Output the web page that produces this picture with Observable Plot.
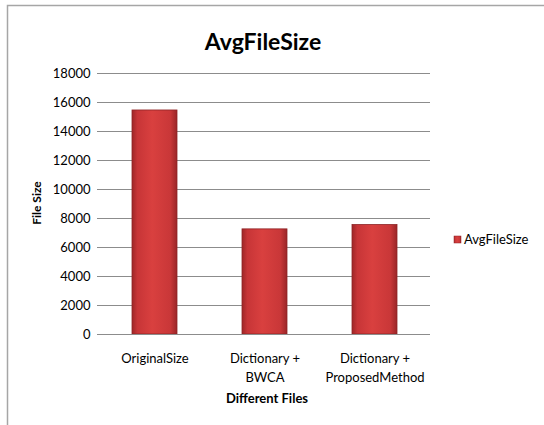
<!DOCTYPE html>
<html>
<head>
<meta charset="utf-8">
<script src="https://cdn.jsdelivr.net/npm/d3@7"></script>
<script src="https://cdn.jsdelivr.net/npm/@observablehq/plot@0.6"></script>
<style>
  html, body { margin: 0; padding: 0; background: #fff; }
  #chart svg { display: block; font-family: Lato, "Open Sans", sans-serif; }
</style>
</head>
<body>
<div id="chart"></div>
<script>
const categories = ["OriginalSize", "Dictionary + BWCA", "Dictionary + ProposedMethod"];
const categoryLabels = ["OriginalSize", "Dictionary +\nBWCA", "Dictionary +\nProposedMethod"];
const values = [15450, 7250, 7550];
const yTicks = [0, 2000, 4000, 6000, 8000, 10000, 12000, 14000, 16000, 18000];
const seriesName = "AvgFileSize";
const titleText = "AvgFileSize";
const xLabel = "Different Files";
const yLabel = "File Size";

const data = categories.map((c, i) => ({category: c, value: values[i]}));
const labelOf = new Map(categories.map((c, i) => [c, categoryLabels[i]]));

const W = 544, H = 425;
const chart = Plot.plot({
  width: W,
  height: H,
  marginLeft: 100,
  marginRight: 114,
  marginTop: 73,
  marginBottom: 91,
  style: {fontFamily: "Lato, 'Open Sans', sans-serif", fontSize: "13px", color: "#000", background: "#fff"},
  x: {domain: categories, paddingInner: 0.59, paddingOuter: 0.295, label: null},
  y: {domain: [0, 18000], label: null},
  marks: [
    Plot.gridY(yTicks, {stroke: "#8c8c8c", strokeOpacity: 1, strokeWidth: 1}),
    Plot.axisY(yTicks, {tickSize: 3, tickPadding: 7, stroke: "#8c8c8c", fontSize: 13, fill: "#000", label: null, tickFormat: d => String(d)}),
    Plot.barY(data, {x: "category", y: "value", fill: "url(#barGrad)", stroke: "#8e2325", strokeWidth: 0.8}),
    Plot.ruleX([0], {frameAnchor: "left", stroke: "#8c8c8c"}),
    Plot.ruleY([0], {stroke: "#8c8c8c"}),
    Plot.axisX({tickSize: 0, tickPadding: 15, fontSize: 13, fill: "#000", lineHeight: 1.45, label: null, tickFormat: d => labelOf.get(d)})
  ]
});

const svg = d3.select(chart);
const defs = svg.insert("defs", ":first-child");
const g = defs.append("linearGradient").attr("id", "barGrad").attr("x1", "0").attr("x2", "1").attr("y1", "0").attr("y2", "0");
[["0%", "#9e2628"], ["12%", "#c73537"], ["45%", "#d9403f"], ["85%", "#c93738"], ["100%", "#9a2527"]].forEach(([o, c]) =>
  g.append("stop").attr("offset", o).attr("stop-color", c));

// outer border
svg.append("path").attr("d", `M7.5,${H} L7.5,5.5 L${W},5.5`).attr("fill", "none").attr("stroke", "#a6a6a6").attr("stroke-width", 1.5);

// title
svg.append("text").attr("x", 263).attr("y", 50).attr("text-anchor", "middle")
  .attr("font-size", 23).attr("font-weight", "bold").attr("fill", "#000").text(titleText);

// y label
svg.append("text").attr("transform", "translate(41,203) rotate(-90)").attr("text-anchor", "middle")
  .attr("font-size", 12).attr("font-weight", "bold").attr("fill", "#000").text(yLabel);

// x label
svg.append("text").attr("x", 267).attr("y", 403).attr("text-anchor", "middle")
  .attr("font-size", 13).attr("font-weight", "bold").attr("fill", "#000").text(xLabel);

// legend
svg.append("rect").attr("x", 454).attr("y", 236).attr("width", 7).attr("height", 7).attr("fill", "url(#barGrad)").attr("stroke", "#8e2325").attr("stroke-width", 0.5);
svg.append("text").attr("x", 464).attr("y", 244).attr("text-anchor", "start").attr("font-size", 13).attr("fill", "#000").text(seriesName);

document.getElementById("chart").appendChild(chart);
</script>
</body>
</html>
